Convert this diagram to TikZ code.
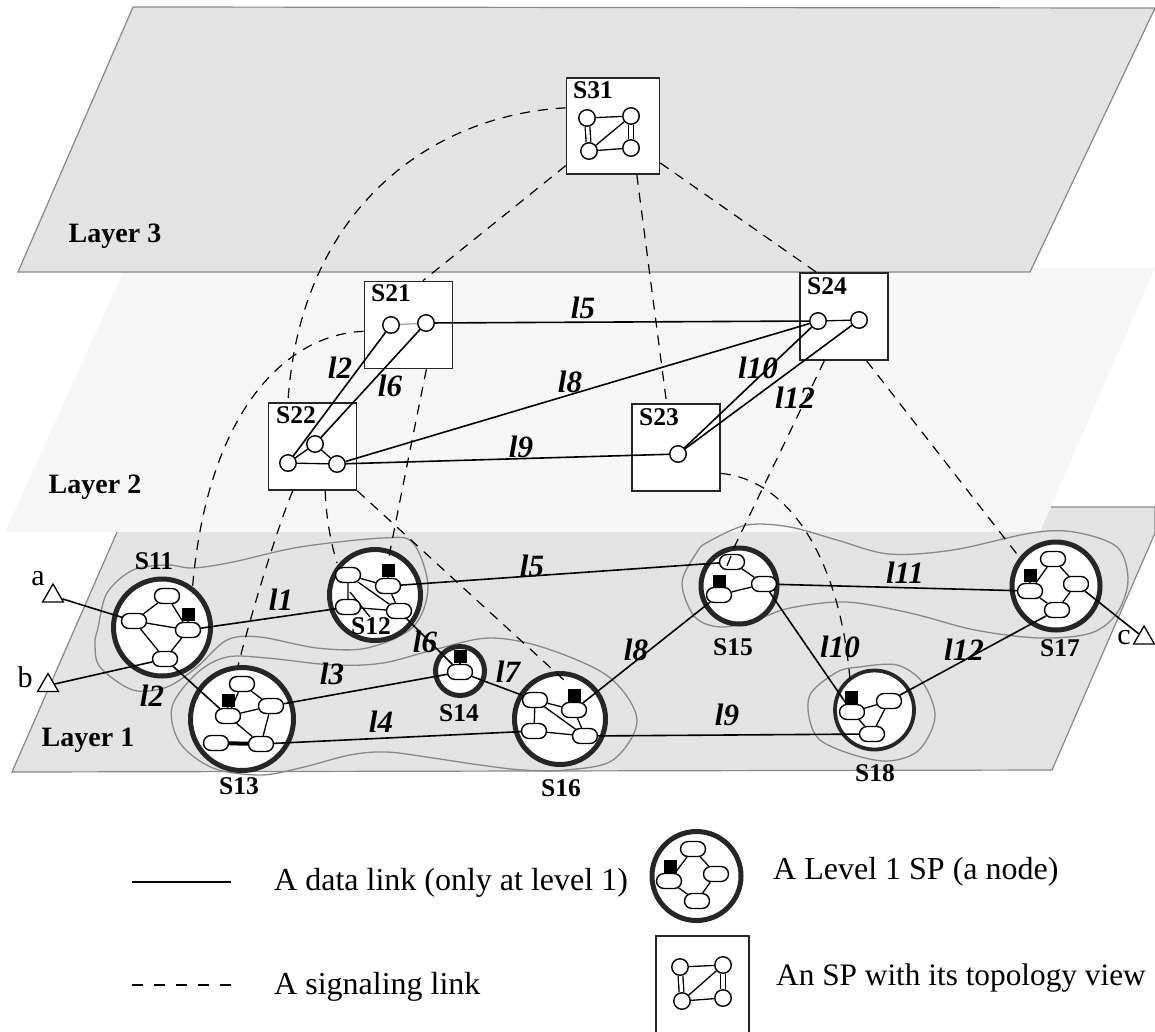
\documentclass[tikz,border=0pt]{standalone}
\usepackage{fontspec}
\setmainfont{Liberation Serif}
\usetikzlibrary{shapes.misc,shapes.geometric}
\pgfdeclarelayer{front}
\pgfsetlayers{main,front}
\definecolor{layerA}{HTML}{E3E3E3}
\definecolor{layerB}{HTML}{F6F6F6}
\definecolor{edgegray}{HTML}{888888}
\tikzset{
  x=1pt,y=-1pt,
  plane/.style={fill=layerA,draw=edgegray,line width=1.2pt},
  contour/.style={draw=edgegray,line width=1.3pt,smooth cycle,tension=.55},
  spc/.style={circle,draw=black!85,fill=white,line width=5pt,inner sep=0pt,minimum size=#1},
  boxv/.style={rectangle,draw=black!85,fill=white,line width=1.6pt,inner sep=0pt,minimum width=88pt,minimum height=87pt},
  pill/.style={rounded rectangle,draw=black,fill=white,line width=1.4pt,inner sep=0pt,minimum width=25pt,minimum height=15pt},
  sq/.style={rectangle,fill=black,inner sep=0pt,minimum size=13pt},
  dotv/.style={circle,draw=black,fill=white,line width=1.4pt,inner sep=0pt,minimum size=16.5pt},
  tri/.style={regular polygon,regular polygon sides=3,draw=black,fill=white,line width=1.3pt,inner sep=0pt,minimum size=24pt},
  inner/.style={draw=black,line width=1.3pt},
  datal/.style={draw=black,line width=1.6pt},
  sig/.style={draw=black,line width=1.2pt,dash pattern=on 10pt off 8pt},
  dbl/.style={draw=black,double,double distance=3.4pt,line width=1.3pt},
  lk/.style={font=\fontsize{31}{32}\selectfont\bfseries\itshape,inner sep=0pt},
  sl/.style={font=\fontsize{25.5}{27}\selectfont\bfseries,inner sep=0pt},
  lay/.style={font=\fontsize{28}{30}\selectfont\bfseries,inner sep=0pt},
  leg/.style={font=\fontsize{32}{34}\selectfont,inner sep=0pt,anchor=west},
  end/.style={font=\fontsize{30}{32}\selectfont,inner sep=0pt},
}
\begin{document}
\begin{tikzpicture}
\useasboundingbox (0,0) rectangle (1155,1031);
% layers
\path[plane] (128,507) -- (1155,507) -- (1155,533) -- (1052,770) -- (12,772) -- cycle;
\fill[layerB] (125,268) -- (1155,268) -- (1040,532) -- (5,532) -- cycle;
\path[plane] (133,7) -- (1155,8) -- (1030,272) -- (18,272) -- cycle;
\node[lay] (L3) at (115,236) {Layer 3};
\node[lay] (L2) at (95,487) {Layer 2};
\node[lay] (L1) at (88,740) {Layer 1};
% contours
\draw[contour] plot coordinates {(98,628)(107,593)(133,570)(167,565)(193,568)(233,562)(300,547)(383,538)(413,543)(428,587)(413,627)(367,648)(317,648)(260,637)(227,640)(197,667)(167,687)(133,690)(100,667)(95,643)};
\draw[contour] plot coordinates {(197,673)(172,707)(180,743)(213,768)(260,775)(300,768)(350,755)(387,752)(433,758)(480,765)(523,770)(566,770)(613,760)(637,720)(609,677)(545,648)(489,638)(433,650)(383,663)(333,665)(267,658)(227,657)};
\draw[contour] plot coordinates {(697,552)(682,583)(695,617)(721,627)(755,620)(790,608)(846,602)(910,613)(975,630)(1040,638)(1091,633)(1117,613)(1128,580)(1117,547)(1074,532)(1031,533)(953,550)(889,554)(837,540)(790,527)(747,525)(708,542)};
\draw[contour] plot coordinates {(837,672)(811,693)(809,717)(820,740)(854,755)(889,761)(919,750)(935,717)(923,683)(897,665)(859,667)};
% boxes
\node[boxv,minimum width=93pt,minimum height=96pt] (S31) at (613,126) {};
\node[boxv] (S21) at (408.5,325) {};
\node[boxv] (S22) at (312.5,446.5) {};
\node[boxv] (S23) at (676,447.5) {};
\node[boxv] (S24) at (844,316.5) {};
% level 1 SPs
\node[spc=97pt] (S11) at (162,627.5) {};
\node[spc=91pt] (S12) at (375,595) {};
\node[spc=103pt] (S13) at (242,719) {};
\node[spc=49pt] (S14) at (460,671) {};
\node[spc=76pt] (S15) at (739,586) {};
\node[spc=91pt] (S16) at (560,719) {};
\node[spc=88pt] (S17) at (1056,586) {};
\node[spc=79pt,line width=3.8pt] (S18) at (874.5,710) {};
% free ends of signaling links
\coordinate (e11) at (192,594);
\coordinate (e12) at (388,562);
\coordinate (e13) at (238,666);
\coordinate (e12b) at (337,563);
\coordinate (e16) at (564,680);
\coordinate (e15) at (727,562);
\coordinate (e17) at (1020,558);
\coordinate (e18) at (850,680);
% signaling links
\draw[sig] (S31.159) .. controls (430,115) and (300,210) .. (S22.119);
\draw[sig] (S31.220) -- (S21.72);
\draw[sig] (S31.296) -- (S23.102);
\draw[sig] (S31.322) -- (S24.122);
\draw[sig] (S21.188) .. controls (280,335) and (205,420) .. (e11);
\draw[sig] (S21.-68) .. controls (412,440) and (398,510) .. (e12);
\draw[sig] (S22.246) .. controls (280,520) and (252,610) .. (e13);
\draw[sig] (S22.286) .. controls (326,515) and (330,540) .. (e12b);
\draw[sig] (S22.south east) -- (e16);
\draw[sig] (S23.330) .. controls (790,480) and (840,560) .. (e18);
\draw[sig] (S24.246) -- (e15);
\draw[sig] (S24.297) -- (e17);
% pills, squares, dots, triangles, texts
\begin{pgfonlayer}{front}
\node[pill] (a1) at (167,596) {};
\node[pill] (b1) at (134,621) {};
\node[pill] (c1) at (188,630) {};
\node[pill] (d1) at (165,659) {};
\node[sq] (q1) at (188,614) {};
\node[pill] (a2) at (348,575) {};
\node[pill] (b2) at (388,586) {};
\node[pill] (c2) at (348,607) {};
\node[pill] (d2) at (399,611) {};
\node[sq] (q2) at (388,570) {};
\node[pill] (a3) at (242,684) {};
\node[pill] (b3) at (271,706) {};
\node[pill] (c3) at (228,716) {};
\node[pill] (d3) at (216,743) {};
\node[pill] (e3) at (261,744) {};
\node[sq] (q3) at (228,700) {};
\node[pill] (a4) at (460,672) {};
\node[sq] (q4) at (460,656) {};
\node[pill] (a5) at (732,562) {};
\node[pill] (b5) at (764,584) {};
\node[pill] (c5) at (719,595) {};
\node[sq] (q5) at (719,581) {};
\node[pill] (a6) at (535,700) {};
\node[pill] (b6) at (574,710) {};
\node[pill] (c6) at (534,731) {};
\node[pill] (d6) at (585,736) {};
\node[sq] (q6) at (574,695) {};
\node[pill] (a7) at (1053,559) {};
\node[pill] (b7) at (1076,584) {};
\node[pill] (c7) at (1030,591) {};
\node[pill] (d7) at (1057,610) {};
\node[sq] (q7) at (1030,575) {};
\node[pill] (a8) at (852,712) {};
\node[pill] (b8) at (889,701) {};
\node[pill] (c8) at (872,734) {};
\node[sq] (q8) at (851,697) {};
\draw[inner] (727,566) -- (731,556);
% dots
\node[dotv] (u1) at (587,118) {};
\node[dotv] (u2) at (631,116) {};
\node[dotv] (u3) at (589,151) {};
\node[dotv] (u4) at (631,148) {};
\node[dotv] (v1) at (391,325) {};
\node[dotv] (v2) at (426,323) {};
\node[dotv] (w1) at (288,463) {};
\node[dotv] (w2) at (315,444) {};
\node[dotv] (w3) at (337,464) {};
\node[dotv] (x1) at (678,454) {};
\node[dotv] (y1) at (818,321) {};
\node[dotv] (y2) at (859,320) {};
% triangles
\node[tri] (ta) at (53,596) {};
\node[tri] (tb) at (48,685.5) {};
\node[tri] (tc) at (1144,638) {};
\node[end] (na) at (38,579) {a};
\node[end] (nb) at (25,677) {b};
\node[end] (nc) at (1124,638) {c};
% SP names
\node[sl] (n31) at (593,90) {S31};
\node[sl] (n21) at (391,293) {S21};
\node[sl] (n22) at (296,415) {S22};
\node[sl] (n23) at (659,417) {S23};
\node[sl] (n24) at (827,286) {S24};
\node[sl] (n11) at (154,561) {S11};
\node[sl] (n12) at (371,626) {S12};
\node[sl] (n13) at (239,786) {S13};
\node[sl] (n14) at (459,713) {S14};
\node[sl] (n15) at (733,647) {S15};
\node[sl] (n16) at (561,788) {S16};
\node[sl] (n17) at (1060,648) {S17};
\node[sl] (n18) at (875,773) {S18};
% link labels, layer 1
\node[lk] (k1) at (281,600) {l1};
\node[lk] (k2) at (152,696) {l2};
\node[lk] (k3) at (332,674) {l3};
\node[lk] (k4) at (381,722) {l4};
\node[lk] (k5) at (532,566) {l5};
\node[lk] (k6) at (425,642) {l6};
\node[lk] (k7) at (508,672) {l7};
\node[lk] (k8) at (636,650) {l8};
\node[lk] (k9) at (727,715) {l9};
\node[lk] (k10) at (840,647) {l10};
\node[lk] (k11) at (905,573) {l11};
\node[lk] (k12) at (964,650) {l12};
% link labels, layer 2
\node[lk] (j2) at (340,368) {l2};
\node[lk] (j6) at (390,386) {l6};
\node[lk] (j9) at (521,447) {l9};
\node[lk] (j5) at (583,308) {l5};
\node[lk] (j8) at (570,382) {l8};
\node[lk] (j10) at (758,368) {l10};
\node[lk] (j12) at (795,398) {l12};
% legend
\node[leg] (t1) at (274,883) {A data link (only at level 1)};
\node[leg] (t2) at (274,987) {A signaling link};
\node[leg] (t3) at (773,872) {A Level 1 SP (a node)};
\node[leg,font=\fontsize{31.3}{33}\selectfont] (t4) at (776,978) {An SP with its topology view};
\end{pgfonlayer}
% links inside the SPs
\draw[inner] (b1)--(a1) (a1)--(c1) (b1)--(c1) (b1)--(d1) (c1)--(d1) (q1)--(c1);
\draw[inner] (a2)--(b2) (a2)--(c2) (a2)--(d2) (c2)--(d2) (b2)--(d2) (q2)--(b2);
\draw[inner] (350,592)--(370,617);
\draw[inner] (a3)--(b3) (a3)--(c3) (c3)--(b3) (b3)--(e3) (c3)--(e3) (q3)--(c3);
\draw[draw=black,line width=4pt] (d3)--(e3);
\draw[inner] (q4)--(a4);
\draw[inner] (a5)--(b5) (c5)--(b5) (q5)--(c5);
\draw[inner] (a6)--(b6) (a6)--(c6) (a6)--(d6) (c6)--(d6) (b6)--(d6) (q6)--(b6);
\draw[inner] (a7)--(b7) (a7)--(c7) (c7)--(d7) (b7)--(d7) (q7)--(c7);
\draw[inner] (a8)--(b8) (a8)--(c8) (b8)--(c8) (q8)--(a8);
% topology views
\draw[inner] (u1)--(u2) (u2)--(u3) (u3)--(u4);
\draw[dbl] (u1)--(u3);
\draw[dbl] (u2)--(u4);
\draw[draw=gray!70,line width=1.3pt] (v1)--(v2);
\draw[inner] (w1)--(w2) (w2)--(w3) (w1)--(w3) (y1)--(y2);
% layer 2 links
\draw[datal] (v1)--(w1);
\draw[datal] (v2)--(w2);
\draw[datal] (v2)--(y1);
\draw[datal] (w3)--(y1);
\draw[datal] (w3)--(x1);
\draw[datal] (x1)--(y1);
\draw[datal] (x1)--(y2);
% layer 1 data links
\draw[datal] (ta)--(b1);
\draw[datal] (tb)--(d1);
\draw[datal] (c1)--(c2);
\draw[datal] (d1)--(c3);
\draw[datal] (b3)--(a4);
\draw[datal] (e3)--(c6);
\draw[datal] (b2)--(a5);
\draw[datal] (d2)--(a4);
\draw[datal] (a4)--(a6);
\draw[datal] (b6)--(c5);
\draw[datal] (d6)--(c8);
\draw[datal] (b5)--(a8);
\draw[datal] (b5)--(c7);
\draw[datal] (b8)--(d7);
\draw[datal] (b7)--(tc);
% legend marks
\coordinate (ls1) at (132,882);
\coordinate (ls2) at (231,882);
\coordinate (ld1) at (132,985);
\coordinate (ld2) at (231,985);
\draw[datal] (ls1)--(ls2);
\draw[sig,dash pattern=on 11pt off 11pt] (ld1)--(ld2);
\node[spc=89pt] (LS) at (696.5,876) {};
\begin{pgfonlayer}{front}
\node[pill] (La) at (693,849) {};
\node[pill] (Lb) at (716,874) {};
\node[pill] (Lc) at (669,881) {};
\node[pill] (Ld) at (697,901) {};
\node[sq] (Lq) at (670,866) {};
\node[dotv] (m1) at (680,967) {};
\node[dotv] (m2) at (723,965) {};
\node[dotv] (m3) at (682,1001) {};
\node[dotv] (m4) at (723,998) {};
\end{pgfonlayer}
\draw[inner] (La)--(Lb) (La)--(Lc) (Lc)--(Ld) (Lb)--(Ld) (Lq)--(Lc);
\draw[black!85,line width=1.6pt] (656,1033) -- (656,936) -- (749,936) -- (749,1033);
\draw[inner] (m1)--(m2) (m2)--(m3) (m3)--(m4);
\draw[dbl] (m1)--(m3);
\draw[dbl] (m2)--(m4);
\end{tikzpicture}
\end{document}
